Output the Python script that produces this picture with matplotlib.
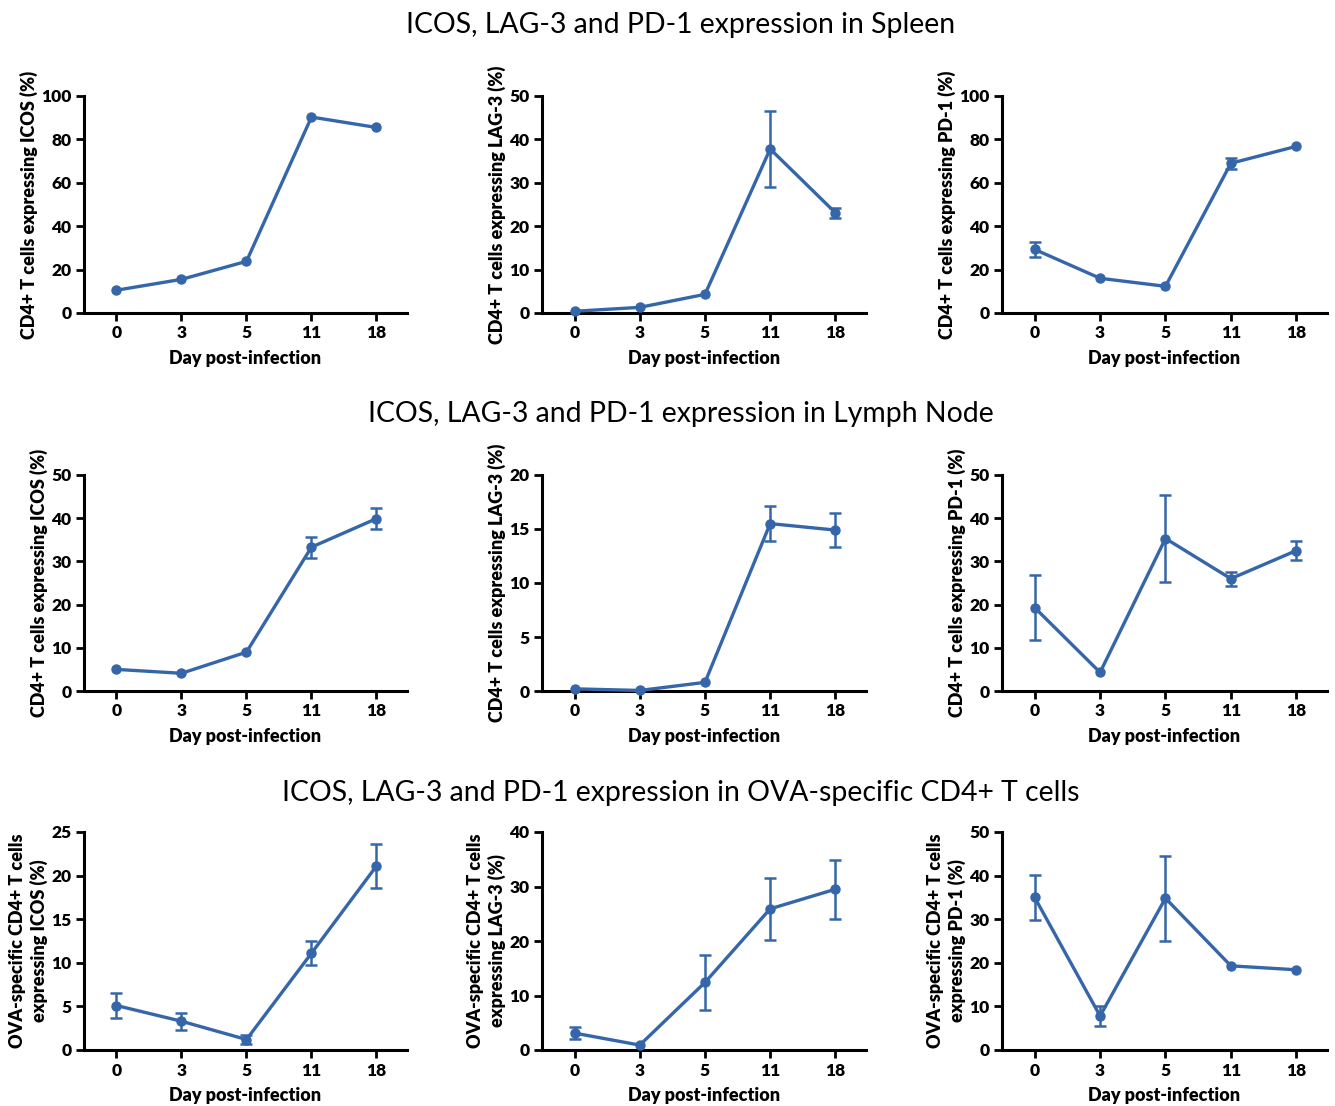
import matplotlib
matplotlib.use("Agg")
import matplotlib.pyplot as plt
import numpy as np

plt.rcParams['font.family'] = ['Lato', 'DejaVu Sans']

days = ["0", "3", "5", "11", "18"]

# Spleen
spleen_icos = [10.5, 15.5, 23.8, 90.3, 85.5]
spleen_icos_err = [0.0, 0.0, 0.0, 0.0, 0.0]
spleen_lag3 = [0.4, 1.3, 4.3, 37.8, 23.1]
spleen_lag3_err = [0.0, 0.0, 0.0, 8.7, 1.2]
spleen_pd1 = [29.3, 16.0, 12.3, 69.0, 76.8]
spleen_pd1_err = [3.6, 0.0, 0.0, 2.5, 0.0]

# Lymph node
ln_icos = [5.0, 4.1, 9.0, 33.3, 39.9]
ln_icos_err = [0.0, 0.0, 0.0, 2.4, 2.5]
ln_lag3 = [0.2, 0.05, 0.8, 15.5, 14.9]
ln_lag3_err = [0.0, 0.0, 0.0, 1.6, 1.55]
ln_pd1 = [19.3, 4.3, 35.3, 26.0, 32.5]
ln_pd1_err = [7.5, 0.0, 10.0, 1.6, 2.2]

# OVA-specific CD4+ T cells
ova_icos = [5.1, 3.3, 1.2, 11.1, 21.1]
ova_icos_err = [1.4, 1.0, 0.55, 1.4, 2.5]
ova_lag3 = [3.1, 0.9, 12.4, 25.9, 29.5]
ova_lag3_err = [1.1, 0.0, 5.0, 5.7, 5.4]
ova_pd1 = [35.0, 7.8, 34.8, 19.3, 18.4]
ova_pd1_err = [5.1, 2.2, 9.8, 0.0, 0.0]

row_titles = [
    "ICOS, LAG-3 and PD-1 expression in Spleen",
    "ICOS, LAG-3 and PD-1 expression in Lymph Node",
    "ICOS, LAG-3 and PD-1 expression in OVA-specific CD4+ T cells",
]

panels = [
    [(spleen_icos, spleen_icos_err, "CD4+ T cells expressing ICOS (%)", 100, 20),
     (spleen_lag3, spleen_lag3_err, "CD4+ T cells expressing LAG-3 (%)", 50, 10),
     (spleen_pd1, spleen_pd1_err, "CD4+ T cells expressing PD-1 (%)", 100, 20)],
    [(ln_icos, ln_icos_err, "CD4+ T cells expressing ICOS (%)", 50, 10),
     (ln_lag3, ln_lag3_err, "CD4+ T cells expressing LAG-3 (%)", 20, 5),
     (ln_pd1, ln_pd1_err, "CD4+ T cells expressing PD-1 (%)", 50, 10)],
    [(ova_icos, ova_icos_err, "OVA-specific CD4+ T cells\nexpressing ICOS (%)", 25, 5),
     (ova_lag3, ova_lag3_err, "OVA-specific CD4+ T cells\nexpressing LAG-3 (%)", 40, 10),
     (ova_pd1, ova_pd1_err, "OVA-specific CD4+ T cells\nexpressing PD-1 (%)", 50, 10)],
]

W, H = 1335, 1106
fig = plt.figure(figsize=(W / 100, H / 100), dpi=100)

col_left = [84, 542, 1002]
col_right = [407, 866, 1327]
row_top = [96, 475, 832]
row_bot = [313, 691, 1050]
title_y = [25, 414, 793]

color = "#3566A9"
x = np.arange(len(days))
wt = "heavy"

for r in range(3):
    fig.text(681 / W, 1 - title_y[r] / H, row_titles[r], ha="center", va="center",
             fontsize=20.4)
    for c in range(3):
        vals, errs, ylabel, ymax, ystep = panels[r][c]
        ax = fig.add_axes([col_left[c] / W, 1 - row_bot[r] / H,
                           (col_right[c] - col_left[c]) / W,
                           (row_bot[r] - row_top[r]) / H])
        vals = np.asarray(vals)
        errs = np.asarray(errs)
        ax.plot(x, vals, color=color, lw=2.4, marker="o", markersize=6.5,
                clip_on=False, zorder=3)
        m = errs > 0
        if m.any():
            ax.errorbar(x[m], vals[m], yerr=errs[m], fmt="none", ecolor=color,
                        elinewidth=1.8, capsize=4.5, capthick=1.8,
                        clip_on=False, zorder=3)
        ax.set_xlim(-0.5, 4.47)
        ax.set_ylim(0, ymax)
        ax.set_yticks(np.arange(0, ymax + 0.01, ystep))
        ax.set_xticks(x)
        ax.set_xticklabels(days)
        for s in ["top", "right"]:
            ax.spines[s].set_visible(False)
        for s in ["left", "bottom"]:
            ax.spines[s].set_linewidth(2.2)
        ax.tick_params(axis="both", width=2.0, length=6, labelsize=12.5, pad=3)
        for lab in ax.get_xticklabels() + ax.get_yticklabels():
            lab.set_fontweight(wt)
        ax.set_xlabel("Day post-infection", fontsize=13, fontweight=wt,
                      labelpad=6)
        ax.set_ylabel(ylabel, fontsize=13, fontweight=wt, labelpad=2,
                      linespacing=1.3)

fig.savefig("out.png", dpi=100)
